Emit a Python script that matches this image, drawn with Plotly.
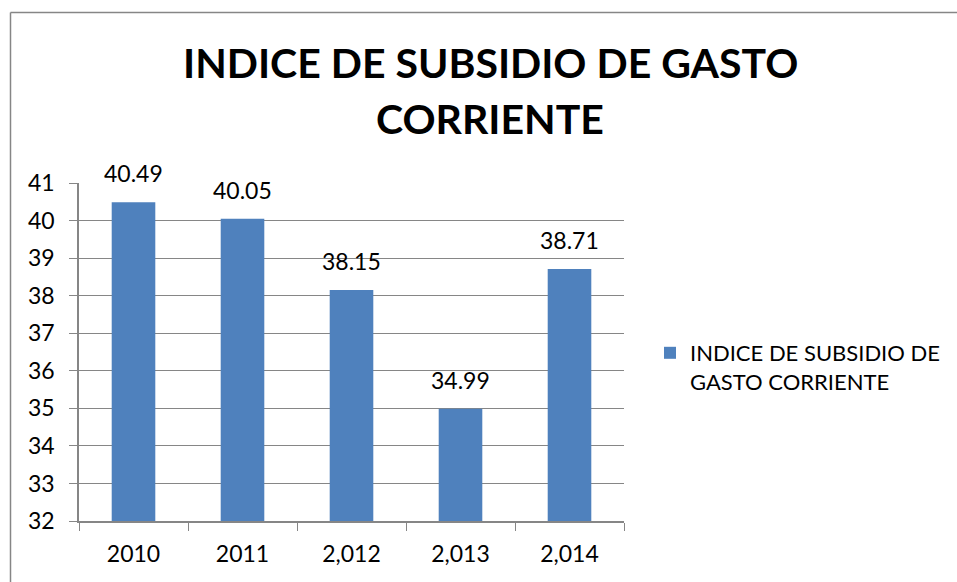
import plotly.graph_objects as go

categories = ["2010", "2011", "2,012", "2,013", "2,014"]
values = [40.49, 40.05, 38.15, 34.99, 38.71]
value_labels = ["40.49", "40.05", "38.15", "34.99", "38.71"]
series_name = "INDICE DE SUBSIDIO DE<br>GASTO CORRIENTE"
title_lines = ["INDICE DE SUBSIDIO DE GASTO", "CORRIENTE"]

W, H = 957, 582
L, R, T, B = 79, 624, 183, 521
FONT = "Lato"

fig = go.Figure()
fig.add_trace(go.Bar(
    x=categories, y=values, name=series_name,
    marker=dict(color="#4F81BD", line=dict(width=0)),
    width=0.4,
    showlegend=True,
))

def px_x(p):
    return (p - L) / (R - L)

def px_y(p):
    return (B - p) / (B - T)

annotations = []
for line, yc in zip(title_lines, [62, 119]):
    annotations.append(dict(text="<b>" + line + "</b>", xref="paper", yref="paper",
                            x=px_x(490), y=px_y(yc), xanchor="center", yanchor="middle",
                            showarrow=False, font=dict(size=41, family=FONT)))
for i, (v, t) in enumerate(zip(values, value_labels)):
    annotations.append(dict(x=i, y=v, xref="x", yref="y", text=t, showarrow=False,
                            yanchor="bottom", xanchor="center", yshift=13,
                            font=dict(size=23, family=FONT, color="#000000")))

fig.update_layout(
    width=W, height=H, autosize=False,
    margin=dict(l=L, r=W - R, t=T, b=H - B, pad=0),
    paper_bgcolor="white", plot_bgcolor="white",
    font=dict(family=FONT, color="#000000"),
    showlegend=True,
    legend=dict(xref="container", yref="container", x=650 / W, y=1 - 332 / H,
                xanchor="left", yanchor="top",
                font=dict(size=22, family=FONT), bgcolor="rgba(0,0,0,0)",
                valign="top", itemwidth=30),
    annotations=annotations,
    shapes=[
        dict(type="line", xref="paper", yref="paper", x0=px_x(10.5), x1=px_x(960),
             y0=px_y(12.5), y1=px_y(12.5), line=dict(color="#868686", width=1.5)),
        dict(type="line", xref="paper", yref="paper", x0=px_x(10.5), x1=px_x(10.5),
             y0=px_y(12.5), y1=px_y(590), line=dict(color="#868686", width=1.5)),
    ],
)
fig.update_xaxes(type="category", range=[-0.5, 4.5], showline=True, linecolor="#868686",
                 linewidth=1.5, ticks="outside", tickson="boundaries", ticklen=8,
                 tickcolor="#868686", tickfont=dict(size=23, family=FONT), showgrid=False,
                 ticklabelstandoff=12, automargin=False)
fig.update_yaxes(range=[32, 41], dtick=1, showline=True, linecolor="#868686", linewidth=1.5,
                 ticks="outside", ticklen=8, tickcolor="#868686",
                 showgrid=True, gridcolor="#868686", gridwidth=1,
                 tickfont=dict(size=23, family=FONT), zeroline=False,
                 ticklabelstandoff=10, automargin=False)

fig.write_html("out.html", config={"displayModeBar": False, "responsive": False},
               post_script=("document.documentElement.style.overflow='hidden';"
                            "document.body.style.overflow='hidden';"
                            "document.body.style.margin='0';document.body.style.padding='0';"))
